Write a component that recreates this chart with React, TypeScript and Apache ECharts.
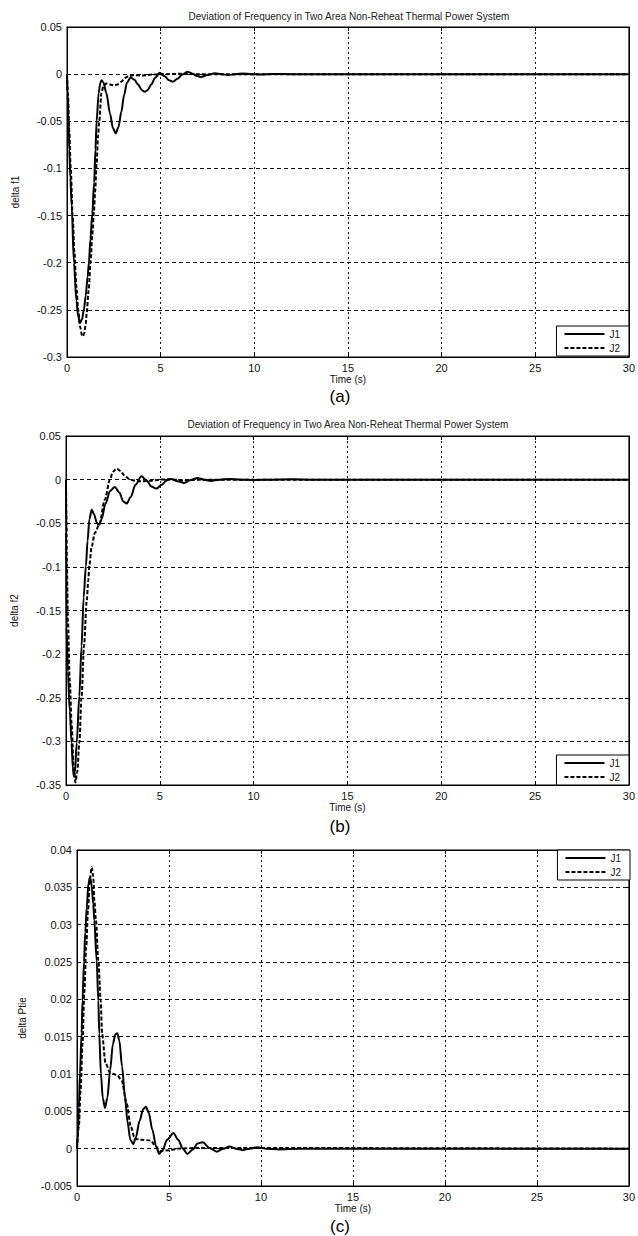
import React, { useEffect, useRef } from 'react';
import * as echarts from 'echarts';

const TITLE = 'Deviation of Frequency in Two Area Non-Reheat Thermal Power System';
const SERIES_NAMES = ['J1', 'J2'];
const PANEL_LABELS = ['(a)', '(b)', '(c)'];
const Y_NAMES = ['delta f1', 'delta f2', 'delta Ptie'];

// (a) delta f1
const aJ1T = [0, 0.03, 0.07, 0.12, 0.18, 0.25, 0.37, 0.5, 0.6, 0.69, 0.8, 0.9, 1.0, 1.1, 1.17, 1.25, 1.35, 1.45, 1.52, 1.58, 1.69, 1.78, 1.85, 1.95, 2.1, 2.3, 2.45, 2.6, 2.75, 2.9, 3.05, 3.2, 3.4, 3.6, 3.8, 4.0, 4.15, 4.3, 4.5, 4.7, 4.95, 5.2, 5.45, 5.65, 5.9, 6.15, 6.42, 6.7, 6.95, 7.16, 7.5, 7.9, 8.25, 8.6, 9.0, 9.4, 9.8, 10.3, 11, 12, 30];
const aJ1V = [0, -0.02, -0.04, -0.08, -0.11, -0.14, -0.2, -0.24, -0.257, -0.264, -0.26, -0.25, -0.235, -0.215, -0.2, -0.175, -0.148, -0.115, -0.08, -0.05, -0.02, -0.009, -0.0064, -0.009, -0.02, -0.042, -0.057, -0.0627, -0.056, -0.04, -0.022, -0.009, -0.0035, -0.006, -0.011, -0.017, -0.0188, -0.017, -0.011, -0.004, 0.0014, -0.002, -0.0065, -0.008, -0.005, -0.0005, 0.0025, 0.0005, -0.002, -0.003, -0.001, 0.001, 0, -0.001, 0, 0.0006, 0, -0.0004, 0.0002, 0, 0];
const aJ2T = [0, 0.05, 0.12, 0.2, 0.3, 0.4, 0.5, 0.6, 0.7, 0.8, 0.85, 0.92, 1.0, 1.05, 1.15, 1.26, 1.35, 1.44, 1.5, 1.58, 1.66, 1.72, 1.84, 1.95, 2.1, 2.3, 2.5, 2.7, 2.9, 3.1, 3.3, 3.6, 4.0, 4.5, 5.2, 6.0, 7.0, 30];
const aJ2V = [0, -0.02, -0.06, -0.1, -0.15, -0.19, -0.225, -0.25, -0.268, -0.277, -0.278, -0.275, -0.265, -0.254, -0.23, -0.2, -0.17, -0.145, -0.125, -0.095, -0.065, -0.05, -0.02, -0.012, -0.01, -0.011, -0.012, -0.011, -0.008, -0.004, -0.002, -0.001, -0.0015, -0.0005, 0, 0.0003, 0, 0];

// (b) delta f2
const bJ1T = [0, 0.01, 0.03, 0.1, 0.2, 0.3, 0.36, 0.42, 0.48, 0.57, 0.71, 0.83, 0.94, 1.06, 1.15, 1.25, 1.37, 1.5, 1.65, 1.77, 1.9, 2.1, 2.35, 2.6, 2.85, 3.05, 3.23, 3.45, 3.7, 4.02, 4.3, 4.55, 4.82, 5.1, 5.35, 5.6, 5.95, 6.3, 6.65, 7.0, 7.35, 7.7, 8.2, 8.7, 9.3, 10, 11, 12, 13, 30];
const bJ1V = [0, -0.06, -0.17, -0.22, -0.265, -0.302, -0.33, -0.34, -0.335, -0.302, -0.248, -0.191, -0.135, -0.099, -0.07, -0.045, -0.0344, -0.04, -0.05, -0.0516, -0.045, -0.028, -0.013, -0.0084, -0.015, -0.025, -0.0275, -0.02, -0.006, 0.0038, -0.001, -0.008, -0.0103, -0.006, -0.001, 0.0008, -0.002, -0.0038, -0.0005, 0.002, 0, -0.0015, 0, 0.0008, 0, -0.0005, 0, 0.0003, 0, 0];
const bJ2T = [0, 0.02, 0.05, 0.1, 0.2, 0.3, 0.4, 0.5, 0.6, 0.71, 0.83, 0.96, 1.1, 1.19, 1.24, 1.37, 1.54, 1.77, 2.07, 2.34, 2.5, 2.7, 2.9, 3.1, 3.35, 3.6, 4.0, 4.5, 5.0, 5.5, 6.3, 7.0, 30];
const bJ2V = [0, -0.04, -0.1, -0.16, -0.23, -0.28, -0.325, -0.347, -0.335, -0.302, -0.248, -0.191, -0.14, -0.115, -0.099, -0.0765, -0.061, -0.0516, -0.023, 0, 0.009, 0.0126, 0.01, 0.005, 0.001, -0.001, -0.002, -0.0012, 0, 0.0005, -0.001, 0, 0];

// (c) delta Ptie
const cJ1T = [0, 0.05, 0.1, 0.16, 0.25, 0.3, 0.38, 0.45, 0.53, 0.62, 0.71, 0.8, 0.88, 0.94, 1.07, 1.16, 1.21, 1.3, 1.4, 1.52, 1.65, 1.8, 1.95, 2.08, 2.19, 2.3, 2.45, 2.6, 2.75, 2.9, 3.06, 3.2, 3.4, 3.6, 3.75, 3.9, 4.1, 4.3, 4.47, 4.65, 4.9, 5.24, 5.5, 5.75, 6.0, 6.3, 6.55, 6.83, 7.2, 7.6, 7.95, 8.3, 8.65, 9.0, 9.4, 9.8, 10.3, 11, 12, 30];
const cJ1V = [0, 0.002, 0.0055, 0.01, 0.0155, 0.0198, 0.025, 0.029, 0.0323, 0.0355, 0.0364, 0.0352, 0.0328, 0.0306, 0.0252, 0.0198, 0.0154, 0.01, 0.0068, 0.00545, 0.0068, 0.0105, 0.014, 0.0153, 0.01546, 0.0145, 0.011, 0.0072, 0.0035, 0.0012, 0.0006, 0.0015, 0.0037, 0.0053, 0.0056, 0.0048, 0.0025, 0.0003, -0.0007, -0.0002, 0.0012, 0.0021, 0.0012, 0, -0.0007, -0.0001, 0.0007, 0.00085, 0.0001, -0.0004, 0, 0.0003, 0, -0.0002, 0, 0.0002, 0, -0.0001, 0, 0];
const cJ2T = [0, 0.1, 0.2, 0.3, 0.4, 0.5, 0.6, 0.7, 0.8, 0.88, 0.95, 1.03, 1.16, 1.29, 1.36, 1.55, 1.79, 2.0, 2.2, 2.43, 2.7, 2.93, 3.15, 3.5, 4.0, 4.25, 4.5, 5.0, 5.5, 6.5, 30];
const cJ2V = [0, 0.003, 0.008, 0.014, 0.021, 0.027, 0.032, 0.0362, 0.0377, 0.0365, 0.033, 0.0306, 0.0252, 0.0198, 0.0154, 0.0115, 0.0102, 0.01, 0.0098, 0.0091, 0.006, 0.0029, 0.0013, 0.0012, 0.0011, 0.0004, -0.0003, -0.0002, 0, 0.0001, 0];

const X_MIN = 0, X_MAX = 30, X_STEP = 5;
const Y_RANGES = [
  { min: -0.3, max: 0.05, step: 0.05 },
  { min: -0.35, max: 0.05, step: 0.05 },
  { min: -0.005, max: 0.04, step: 0.005 },
];
const DATA = [
  [[aJ1T, aJ1V], [aJ2T, aJ2V]],
  [[bJ1T, bJ1V], [bJ2T, bJ2V]],
  [[cJ1T, cJ1V], [cJ2T, cJ2V]],
];

const FONT = "'Liberation Sans', Arial, sans-serif";

const GRIDS = [
  { left: 67, top: 27, width: 564, height: 330 },
  { left: 66, top: 436, width: 564, height: 349 },
  { left: 77, top: 850, width: 552, height: 336 },
];
const LEGENDS = [
  { right: 9, top: 326 },
  { right: 9, top: 755 },
  { right: 8, top: 850 },
];
const LABEL_Y = [396, 826, 1226];
const TITLE_Y = [11, 419];

const pairs = (t: number[], v: number[]) => t.map((x, i) => [x, v[i]]);
const fmt = (v: number) => String(parseFloat(v.toFixed(4)));

export default function App() {
  const ref = useRef<HTMLDivElement>(null);
  useEffect(() => {
    if (!ref.current) return;
    const chart = echarts.init(ref.current, undefined, { renderer: 'svg' });
    const grid: any[] = [];
    const xAxis: any[] = [];
    const yAxis: any[] = [];
    const series: any[] = [];
    const legend: any[] = [];
    const title: any[] = [];
    const graphic: any[] = [];
    GRIDS.forEach((g, i) => {
      grid.push({ ...g, show: true, borderColor: '#000', borderWidth: 1, backgroundColor: '#fff' });
      const r = Y_RANGES[i];
      xAxis.push({
        type: 'value', gridIndex: i, min: X_MIN, max: X_MAX, interval: X_STEP,
        name: 'Time (s)', nameLocation: 'middle', nameGap: 17,
        nameTextStyle: { fontSize: 10, color: '#111', fontFamily: FONT },
        axisLine: { show: true, onZero: false, lineStyle: { color: '#000', width: 1 } },
        axisTick: { show: true, inside: true, length: 4, lineStyle: { color: '#000' } },
        axisLabel: { fontSize: 11, color: '#111', fontFamily: FONT, margin: 5, formatter: fmt },
        splitLine: { show: true, lineStyle: { color: '#111', type: [2, 3], width: 1 } },
      });
      xAxis.push({
        type: 'value', gridIndex: i, min: X_MIN, max: X_MAX, interval: X_STEP, position: 'top',
        axisLine: { show: true, onZero: false, lineStyle: { color: '#000' } },
        axisTick: { show: true, inside: true, length: 4, lineStyle: { color: '#000' } },
        axisLabel: { show: false }, splitLine: { show: false },
      });
      yAxis.push({
        type: 'value', gridIndex: i, min: r.min, max: r.max, interval: r.step,
        name: Y_NAMES[i], nameLocation: 'middle', nameRotate: 90,
        nameGap: i === 2 ? 50 : 47,
        nameTextStyle: { fontSize: 10, color: '#111', fontFamily: FONT },
        axisLine: { show: true, onZero: false, lineStyle: { color: '#000', width: 1 } },
        axisTick: { show: true, inside: true, length: 4, lineStyle: { color: '#000' } },
        axisLabel: { fontSize: 11, color: '#111', fontFamily: FONT, margin: 5, formatter: fmt },
        splitLine: { show: true, lineStyle: { color: '#111', type: [4, 3], width: 1 } },
      });
      yAxis.push({
        type: 'value', gridIndex: i, min: r.min, max: r.max, interval: r.step, position: 'right',
        axisLine: { show: true, onZero: false, lineStyle: { color: '#000' } },
        axisTick: { show: true, inside: true, length: 4, lineStyle: { color: '#000' } },
        axisLabel: { show: false }, splitLine: { show: false },
      });
      DATA[i].forEach(([t, v], k) => {
        series.push({
          type: 'line', name: SERIES_NAMES[k], xAxisIndex: i * 2, yAxisIndex: i * 2,
          data: pairs(t, v), symbol: 'none', smooth: 0.3, smoothMonotone: 'x',
          lineStyle: { color: '#000', width: 2, type: k === 0 ? 'solid' : [4, 2] },
          itemStyle: { color: '#000' },
          z: k === 0 ? 3 : 2,
        });
      });
      legend.push({
        data: SERIES_NAMES, orient: 'vertical', ...LEGENDS[i],
        itemWidth: 40, itemHeight: 10, itemGap: 4, padding: [3, 9, 3, 7],
        borderColor: '#000', borderWidth: 1, backgroundColor: '#fff', borderRadius: 0,
        textStyle: { fontSize: 10, color: '#111', fontFamily: FONT },
        itemStyle: { opacity: 0 },
        selectedMode: false,
      });
      graphic.push({
        type: 'text', x: 340, y: LABEL_Y[i],
        style: { text: PANEL_LABELS[i], fontSize: 17, fontFamily: FONT, fill: '#000', textAlign: 'center', textVerticalAlign: 'middle' },
      });
    });
    TITLE_Y.forEach((y, i) => {
      title.push({
        text: TITLE, left: GRIDS[i].left + GRIDS[i].width / 2, top: y, textAlign: 'center',
        textStyle: { fontSize: 10, fontWeight: 'normal', color: '#222', fontFamily: FONT },
        padding: 0,
      });
    });
    chart.setOption({
      animation: false,
      backgroundColor: '#fff',
      title, grid, xAxis, yAxis, series, legend, graphic,
    });
    return () => chart.dispose();
  }, []);
  return <div ref={ref} style={{ position: 'absolute', left: 0, top: 0, width: 638, height: 1236 }} />;
}
